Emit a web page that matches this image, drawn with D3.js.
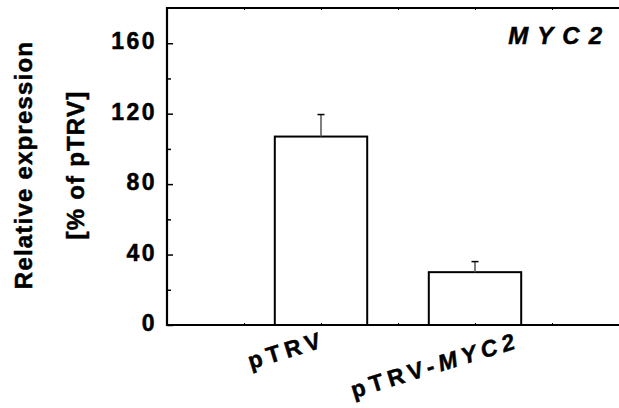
<!DOCTYPE html>
<html><head><meta charset="utf-8">
<script src="https://cdn.jsdelivr.net/npm/d3@7"></script>
<style>body{margin:0;background:#fff}svg{display:block}text{stroke:#000;stroke-width:0.5px;fill:#000}</style>
</head><body>
<svg id="c" width="619" height="408"></svg>
<script>
const categories = ["pTRV", "pTRV-MYC2"];
const values = [107, 30];
const errors = [12.5, 6];
const yTicks = [0, 40, 80, 120, 160];
const yMinor = [20, 60, 100, 140];
const xTicks = [0.5, 1, 1.5, 2, 2.5];
const title = "MYC2";

const svg = d3.select("#c");
const FF = "'Liberation Sans', Arial, Helvetica, sans-serif";
const L = 167, T = 8, B = 325;
const x = d3.scaleLinear().domain([0, 3]).range([L, L + 462]);
const y = d3.scaleLinear().domain([0, 180]).range([B, T]);
const bw = x(0.6) - x(0);

// bars
svg.selectAll("rect.bar").data(values).enter().append("rect")
  .attr("x", (d, i) => x(i + 1) - bw / 2)
  .attr("y", d => y(d))
  .attr("width", bw)
  .attr("height", d => y(0) - y(d))
  .attr("fill", "#fff").attr("stroke", "#000").attr("stroke-width", 2);

// error bars
const eg = svg.append("g");
values.forEach((v, i) => {
  eg.append("line").attr("x1", x(i + 1)).attr("x2", x(i + 1))
    .attr("y1", y(v)).attr("y2", y(v + errors[i]))
    .attr("stroke", "#555").attr("stroke-width", 1.5);
  eg.append("line").attr("x1", x(i + 1) - 3.5).attr("x2", x(i + 1) + 3.5)
    .attr("y1", y(v + errors[i])).attr("y2", y(v + errors[i]))
    .attr("stroke", "#000").attr("stroke-width", 1.5);
});

// axes
const gy = svg.append("g").attr("transform", `translate(${L},0)`)
  .call(d3.axisLeft(y).tickValues(yTicks).tickSize(-6).tickFormat(""));
gy.selectAll(".tick line").attr("stroke-width", 1.5);
gy.select(".domain").remove();
const gy2 = svg.append("g").attr("transform", `translate(${L},0)`)
  .call(d3.axisLeft(y).tickValues(yMinor).tickSize(-4).tickFormat(""));
gy2.selectAll(".tick line").attr("stroke-width", 1.5);
gy2.select(".domain").remove();

const gb = svg.append("g").attr("transform", `translate(0,${B})`)
  .call(d3.axisBottom(x).tickValues(xTicks).tickSize(-2).tickFormat(""));
gb.select(".domain").remove();
const gt = svg.append("g").attr("transform", `translate(0,${T})`)
  .call(d3.axisTop(x).tickValues(xTicks).tickSize(-2).tickFormat(""));
gt.select(".domain").remove();

// frame lines (left, top, bottom)
svg.append("path")
  .attr("d", `M${x(3)+5},${T} H${L} V${B} H${x(3)+5}`)
  .attr("fill", "none").attr("stroke", "#000").attr("stroke-width", 2.2);

// y tick labels
svg.append("g").selectAll("text").data(yTicks).enter().append("text")
  .attr("x", L - 10).attr("y", d => y(d) + 6)
  .attr("text-anchor", "end")
  .style("font-family", FF).style("font-weight", "bold").style("font-size", "23px")
  .style("letter-spacing", "2.5px")
  .text(d => d);

// y axis title
const yt = svg.append("g").style("font-family", FF).style("font-weight", "bold")
  .style("font-size", "24px").style("letter-spacing", "1.2px");
yt.append("text").attr("transform", "translate(32,165) rotate(-90)")
  .attr("text-anchor", "middle").text("Relative expression");
yt.append("text").attr("transform", "translate(84,165) rotate(-90)")
  .attr("text-anchor", "middle").text("[% of pTRV]");

// title
svg.append("text").attr("x", 611).attr("y", 44).attr("text-anchor", "end")
  .style("font-family", FF).style("font-weight", "bold").style("font-style", "italic")
  .style("font-size", "24px").style("letter-spacing", "9px").text(title);

// category labels
const labOff = [[6, 21], [46, 22]];
categories.forEach((c, i) => {
  const g = svg.append("g")
    .attr("transform", `translate(${x(i + 1) + labOff[i][0]},${B + labOff[i][1]}) rotate(-17)`);
  const t = g.append("text")
    .attr("text-anchor", "end")
    .style("font-family", FF).style("font-weight", "bold").style("font-size", "23px")
    .style("letter-spacing", "5px");
  const parts = c.split("-");
  t.append("tspan").text(parts[0]);
  if (parts.length > 1) {
    t.append("tspan").text("-");
    t.append("tspan").style("font-style", "italic").text(parts[1]);
  }
});
</script>
</body></html>
